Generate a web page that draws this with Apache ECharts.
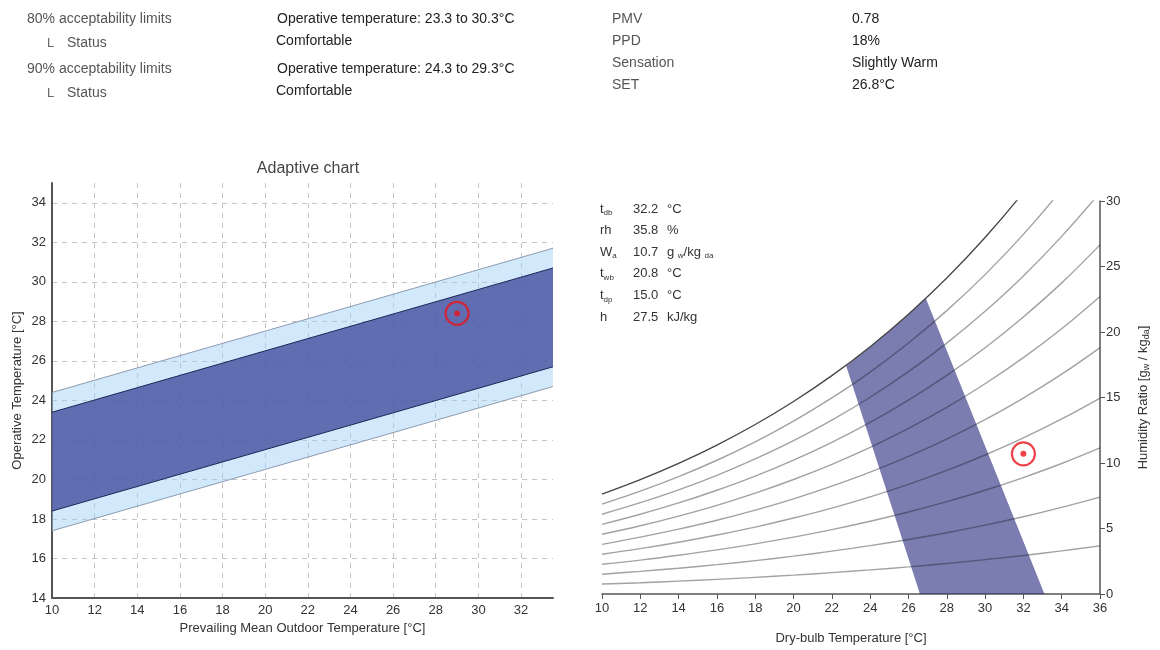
<!DOCTYPE html>
<html>
<head>
<meta charset="utf-8">
<script src="https://cdn.jsdelivr.net/npm/echarts@6/dist/echarts.min.js"></script>
<style>
  html, body { margin: 0; padding: 0; background: #fff; }
  #chart { width: 1160px; height: 650px; }
</style>
</head>
<body>
<div id="chart"></div>
<script>
// header text
const limitLabels = ['80% acceptability limits', '90% acceptability limits'];
const limitRanges = ['Operative temperature: 23.3 to 30.3°C', 'Operative temperature: 24.3 to 29.3°C'];
const limitStatus = ['Comfortable', 'Comfortable'];
const pmvLabels = ['PMV', 'PPD', 'Sensation', 'SET'];
const pmvValues = ['0.78', '18%', 'Slightly Warm', '26.8°C'];

// adaptive chart
const outdoorT = [10, 33.5];
const lower80 = [17.4, 24.7];
const lower90 = [18.4, 25.7];
const upper90 = [23.4, 30.7];
const upper80 = [24.4, 31.7];
const adaptivePoint = [29, 28.4];

// psychrometric chart, humidity ratio [g/kg] per relative humidity curve
const dryBulb = [10, 12, 14, 16, 18, 20, 22, 24, 26, 28, 30, 32, 34, 36];
const rh10 = [0.76, 0.86, 0.98, 1.12, 1.27, 1.44, 1.63, 1.84, 2.07, 2.33, 2.62, 2.94, 3.29, 3.67];
const rh20 = [1.51, 1.73, 1.97, 2.24, 2.55, 2.89, 3.27, 3.69, 4.16, 4.68, 5.26, 5.90, 6.61, 7.39];
const rh30 = [2.27, 2.59, 2.96, 3.37, 3.83, 4.34, 4.91, 5.55, 6.26, 7.05, 7.92, 8.89, 9.96, 11.15];
const rh40 = [3.03, 3.46, 3.95, 4.50, 5.11, 5.80, 6.56, 7.42, 8.37, 9.43, 10.61, 11.91, 13.36, 14.96];
const rh50 = [3.79, 4.34, 4.95, 5.63, 6.40, 7.26, 8.23, 9.30, 10.50, 11.83, 13.31, 14.96, 16.78, 18.81];
const rh60 = [4.56, 5.21, 5.95, 6.77, 7.70, 8.74, 9.90, 11.19, 12.64, 14.25, 16.05, 18.04, 20.25, 22.71];
const rh70 = [5.32, 6.09, 6.95, 7.92, 9.00, 10.22, 11.58, 13.10, 14.80, 16.69, 18.80, 21.15, 23.75, 26.65];
const rh80 = [6.09, 6.97, 7.95, 9.06, 10.31, 11.70, 13.27, 15.02, 16.97, 19.15, 21.58, 24.28, 27.30, 30.65];
const rh90 = [6.86, 7.85, 8.96, 10.21, 11.62, 13.20, 14.97, 16.94, 19.16, 21.63, 24.38, 27.45, 30.88, 34.69];
const rh100 = [7.63, 8.73, 9.97, 11.37, 12.94, 14.70, 16.67, 18.88, 21.36, 24.12, 27.21, 30.66, 34.50, 38.79];
const comfortDb = [26.6, 22.75, 24, 25, 26, 26.9, 33.1];
const comfortW = [0, 17.4, 18.9, 20.1, 21.35, 22.6, 0];
const psyPoint = [32.0, 10.7];

const psyNames = ['t', 'rh', 'W', 't', 't', 'h'];
const psySubs = ['db', '', 'a', 'wb', 'dp', ''];
const psyValues = ['32.2', '35.8', '10.7', '20.8', '15.0', '27.5'];
const psyUnits = ['°C', '%', 'g {s|w}/kg {s|da}', '°C', '°C', 'kJ/kg'];

const FONT = 'Liberation Sans, Arial, sans-serif';
const RED = '#e8141b';

const chart = echarts.init(document.getElementById('chart'));

function pairs(xs, ys) {
  return xs.map((x, i) => [x, ys[i]]);
}

function polygonSeries(gridIdx, points, color, opacity, z) {
  return {
    type: 'custom',
    xAxisIndex: gridIdx,
    yAxisIndex: gridIdx,
    silent: true,
    z: z,
    data: [points[0]],
    renderItem: (params, api) => ({
      type: 'polygon',
      shape: { points: points.map(p => api.coord(p)) },
      style: { fill: color, opacity: opacity }
    })
  };
}

function lineSeries(gridIdx, data, color, width, smooth, z) {
  return {
    type: 'line',
    xAxisIndex: gridIdx,
    yAxisIndex: gridIdx,
    data: data,
    symbol: 'none',
    smooth: smooth,
    silent: true,
    z: z || 3,
    lineStyle: { color: color, width: width }
  };
}

function markerSeries(gridIdx, point) {
  return [{
    type: 'scatter',
    xAxisIndex: gridIdx,
    yAxisIndex: gridIdx,
    data: [point],
    symbolSize: 23,
    z: 8,
    itemStyle: { color: 'rgba(0,0,0,0)', borderColor: RED, borderWidth: 2.2 }
  }, {
    type: 'scatter',
    xAxisIndex: gridIdx,
    yAxisIndex: gridIdx,
    data: [point],
    symbolSize: 6,
    z: 9,
    itemStyle: { color: RED }
  }];
}

// header and psychrometric readout as graphic text
let graphics = [];
const txt = (x, y, text, color, size) => ({
  type: 'text', x: x, y: y,
  style: { text: text, fill: color, font: (size || 14) + 'px ' + FONT, verticalAlign: 'middle' }
});

limitLabels.forEach((label, i) => {
  const y = 19 + i * 50;
  graphics.push(txt(27, y, label, '#555'));
  graphics.push(txt(47, y + 24, 'L', '#666', 13));
  graphics.push(txt(67, y + 24, 'Status', '#555'));
  graphics.push(txt(277, y, limitRanges[i], '#222'));
  graphics.push(txt(276, y + 22, limitStatus[i], '#222'));
});
pmvLabels.forEach((label, i) => {
  const y = 19 + i * 22;
  graphics.push(txt(612, y, label, '#555'));
  graphics.push(txt(852, y, pmvValues[i], '#222'));
});

const subRich = {
  m: { fontSize: 13, lineHeight: 16, fontFamily: FONT, fill: '#333' },
  s: { fontSize: 8, lineHeight: 10, verticalAlign: 'bottom', fontFamily: FONT, fill: '#333' },
  u: { fontSize: 13, lineHeight: 16, fontFamily: FONT, fill: '#333' }
};
psyNames.forEach((name, i) => {
  const y = 209 + i * 21.6;
  const label = '{m|' + name + '}' + (psySubs[i] ? '{s|' + psySubs[i] + '}' : '');
  graphics.push({ type: 'text', x: 600, y: y, style: { text: label, rich: subRich, verticalAlign: 'middle' } });
  graphics.push(txt(633, y, psyValues[i], '#333', 13));
  const unit = psyUnits[i].replace(/^([^{]+)/, '{u|$1}').replace(/\}([^{}|]+)\{/g, '}{u|$1}{');
  graphics.push({ type: 'text', x: 667, y: y, style: { text: unit, rich: subRich, verticalAlign: 'middle' } });
});

const axisNameStyle = { color: '#333', fontSize: 13, fontFamily: FONT };
const tickLabel = { color: '#333', fontSize: 13, fontFamily: FONT };
const gridDash = { show: true, showMinLine: false, showMaxLine: false, lineStyle: { color: '#c4c4c4', type: [5, 5], width: 1 } };

const rhCurves = [rh10, rh20, rh30, rh40, rh50, rh60, rh70, rh80, rh90];

let series = [
  polygonSeries(0, pairs(outdoorT, lower80).concat(pairs(outdoorT, upper80).reverse()), 'rgb(160,206,247)', 0.48, 1),
  polygonSeries(0, pairs(outdoorT, lower90).concat(pairs(outdoorT, upper90).reverse()), 'rgb(72,82,160)', 0.82, 2),
  lineSeries(0, pairs(outdoorT, lower80), '#8c9bb0', 1, false),
  lineSeries(0, pairs(outdoorT, upper80), '#8c9bb0', 1, false),
  lineSeries(0, pairs(outdoorT, lower90), '#1d2556', 1, false),
  lineSeries(0, pairs(outdoorT, upper90), '#1d2556', 1, false)
].concat(markerSeries(0, adaptivePoint));

// comfort zone: translucent fill so the RH curves read through it whichever is drawn last
const zone = lineSeries(1, pairs(comfortDb, comfortW), 'rgba(0,0,0,0)', 0, false, 1);
zone.areaStyle = { color: 'rgb(35,37,123)', opacity: 0.6 };
series.push(zone);
rhCurves.forEach(curve => {
  series.push(lineSeries(1, pairs(dryBulb, curve), 'rgba(30,30,45,0.42)', 1.4, 0.4, 4));
});
series.push(lineSeries(1, pairs(dryBulb, rh100), '#444', 1.3, 0.4, 4));
series = series.concat(markerSeries(1, psyPoint));

const option = {
  animation: false,
  backgroundColor: '#fff',
  title: {
    text: 'Adaptive chart',
    left: 303,
    top: 156,
    textAlign: 'center',
    textStyle: { color: '#444', fontSize: 16, fontWeight: 'normal', fontFamily: FONT }
  },
  graphic: graphics,
  grid: [
    { left: 52, right: 607, top: 183, bottom: 52 },
    { left: 602, right: 60, top: 201, bottom: 53 }
  ],
  xAxis: [{
    type: 'value', gridIndex: 0, min: 10, max: 33.5, interval: 2,
    name: 'Prevailing Mean Outdoor Temperature [°C]', nameLocation: 'middle', nameGap: 22,
    nameTextStyle: axisNameStyle,
    axisLine: { lineStyle: { color: '#555', width: 2 } },
    axisTick: { show: false },
    axisLabel: Object.assign({ margin: 6, showMaxLabel: false }, tickLabel),
    splitLine: gridDash
  }, {
    type: 'value', gridIndex: 1, min: 10, max: 36, interval: 2,
    name: 'Dry-bulb Temperature [°C]', nameLocation: 'middle', nameGap: 38,
    nameTextStyle: axisNameStyle,
    axisLine: { lineStyle: { color: '#555', width: 1.5 } },
    axisTick: { show: true, length: 5, lineStyle: { color: '#555' } },
    axisLabel: Object.assign({ margin: 8 }, tickLabel),
    splitLine: { show: false }
  }],
  yAxis: [{
    type: 'value', gridIndex: 0, min: 14, max: 35, interval: 2,
    name: 'Operative Temperature [°C]', nameLocation: 'middle', nameGap: 28,
    nameTextStyle: axisNameStyle,
    axisLine: { show: true, lineStyle: { color: '#555', width: 2 } },
    axisTick: { show: false },
    axisLabel: Object.assign({ margin: 6, showMaxLabel: false }, tickLabel),
    splitLine: gridDash
  }, {
    type: 'value', gridIndex: 1, position: 'right', min: 0, max: 30, interval: 5,
    name: 'Humidity Ratio [{m|g}{s|w}{m| / kg}{s|da}{m|]}', nameLocation: 'middle', nameGap: 35, nameRotate: 90,
    nameTextStyle: Object.assign({}, axisNameStyle, {
      rich: {
        m: { fontSize: 13, lineHeight: 16, color: '#333', fontFamily: FONT },
        s: { fontSize: 9, lineHeight: 9, verticalAlign: 'bottom', color: '#333', fontFamily: FONT }
      }
    }),
    axisLine: { show: true, lineStyle: { color: '#555', width: 1.5 } },
    axisTick: { show: true, length: 5, lineStyle: { color: '#555' } },
    axisLabel: Object.assign({ margin: 6 }, tickLabel),
    splitLine: { show: false }
  }],
  series: series
};

chart.setOption(option);
</script>
</body>
</html>
